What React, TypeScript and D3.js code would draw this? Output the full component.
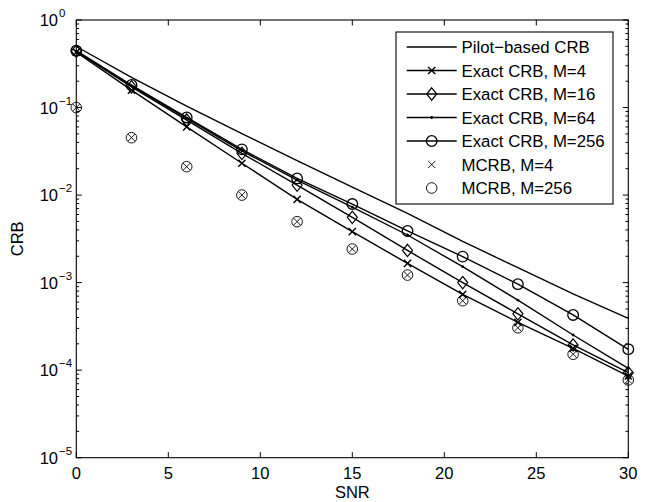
import React from "react";
import * as d3 from "d3";

const snr = [0, 3, 6, 9, 12, 15, 18, 21, 24, 27, 30];
const pilotCRB = [0.498, 0.221, 0.104, 0.0505, 0.0247, 0.0123, 0.0062, 0.00296, 0.00148, 0.000743, 0.000391];
const exactM4 = [0.43, 0.158, 0.0601, 0.0231, 0.00895, 0.00382, 0.00166, 0.000735, 0.000352, 0.000177, 0.0000857];
const exactM16 = [0.44, 0.172, 0.072, 0.03, 0.013, 0.00557, 0.00233, 0.001, 0.00044, 0.000194, 0.0000935];
const exactM64 = [0.44, 0.177, 0.075, 0.032, 0.0148, 0.0073, 0.0035, 0.00152, 0.00063, 0.000252, 0.000105];
const exactM256 = [0.446, 0.181, 0.0771, 0.0333, 0.0155, 0.0079, 0.00389, 0.00198, 0.00096, 0.000427, 0.000173];
const mcrbM4 = [0.1, 0.0453, 0.0211, 0.01, 0.00497, 0.00242, 0.00122, 0.000621, 0.000305, 0.000152, 0.0000772];
const mcrbM256 = [0.1, 0.0453, 0.0211, 0.01, 0.00497, 0.00242, 0.00122, 0.000621, 0.000305, 0.000152, 0.0000772];

const xTicks = [0, 5, 10, 15, 20, 25, 30];
const yExponents = [0, -1, -2, -3, -4, -5];
const legendLabels = [
  "Pilot\u2212based CRB",
  "Exact CRB, M=4",
  "Exact CRB, M=16",
  "Exact CRB, M=64",
  "Exact CRB, M=256",
  "MCRB, M=4",
  "MCRB, M=256",
];

const W = 647;
const H = 502;
const L = 76.3, R = 628.3, T = 20, B = 457.7;
const FONT = "'Liberation Sans', Arial, Helvetica, sans-serif";

type MarkerKind = "none" | "x" | "diamond" | "dot" | "circle";

function Marker({ kind, x, y, sw }: { kind: MarkerKind; x: number; y: number; sw: number }) {
  if (kind === "x") {
    const s = 3.6;
    return (
      <path d={`M${x - s},${y - s}L${x + s},${y + s}M${x - s},${y + s}L${x + s},${y - s}`} stroke="#000" strokeWidth={sw} fill="none" />
    );
  }
  if (kind === "diamond") {
    const w = 5, h = 6.2;
    return <path d={`M${x},${y - h}L${x + w},${y}L${x},${y + h}L${x - w},${y}Z`} stroke="#000" strokeWidth={sw} fill="none" />;
  }
  if (kind === "dot") {
    return <circle cx={x} cy={y} r={1.4} fill="#000" />;
  }
  if (kind === "circle") {
    return <circle cx={x} cy={y} r={5.3} stroke="#000" strokeWidth={sw} fill="none" />;
  }
  return null;
}

export default function App() {
  const x = d3.scaleLinear().domain([0, 30]).range([L, R]);
  const y = d3.scaleLog().domain([1e-5, 1]).range([B, T]);

  const line = d3
    .line<number>()
    .x((_, i) => x(snr[i]))
    .y((v) => y(v));

  const series: { data: number[]; marker: MarkerKind; line: boolean; sw: number; msw: number }[] = [
    { data: pilotCRB, marker: "none", line: true, sw: 1.4, msw: 1.4 },
    { data: exactM4, marker: "x", line: true, sw: 1.4, msw: 1.4 },
    { data: exactM16, marker: "diamond", line: true, sw: 1.4, msw: 1.2 },
    { data: exactM64, marker: "dot", line: true, sw: 1.4, msw: 1.2 },
    { data: exactM256, marker: "circle", line: true, sw: 1.4, msw: 1.3 },
    { data: mcrbM4, marker: "x", line: false, sw: 0.9, msw: 0.9 },
    { data: mcrbM256, marker: "circle", line: false, sw: 0.9, msw: 0.9 },
  ];

  const minor: number[] = [];
  for (let e = -5; e < 0; e++) {
    for (let k = 2; k <= 9; k++) minor.push(k * Math.pow(10, e));
  }

  const legX = 396, legY = 32, legW = 217, legH = 172;
  const rowY0 = 47, rowDy = 23.5;

  return (
    <svg width={W} height={H} style={{ position: "absolute", left: 0, top: 0, background: "#fff" }} fontFamily={FONT}>
      <rect x={0} y={0} width={W} height={H} fill="#fff" />
      <rect x={L} y={T} width={R - L} height={B - T} fill="none" stroke="#000" strokeWidth={1.1} />
      {xTicks.map((t) => (
        <g key={"xt" + t}>
          <line x1={x(t)} x2={x(t)} y1={B} y2={B - 5.5} stroke="#000" strokeWidth={1} />
          <line x1={x(t)} x2={x(t)} y1={T} y2={T + 5.5} stroke="#000" strokeWidth={1} />
          <text x={x(t)} y={479} textAnchor="middle" fontSize={16.5}>
            {t}
          </text>
        </g>
      ))}
      {yExponents.map((e) => {
        const yy = y(Math.pow(10, e));
        return (
          <g key={"yt" + e}>
            <line x1={L} x2={L + 5.5} y1={yy} y2={yy} stroke="#000" strokeWidth={1} />
            <line x1={R} x2={R - 5.5} y1={yy} y2={yy} stroke="#000" strokeWidth={1} />
            <text x={58} y={yy + 6} textAnchor="end" fontSize={16.5}>
              10
            </text>
            <text x={59} y={yy - 3} textAnchor="start" fontSize={11.5}>
              {e === 0 ? "0" : "\u2212" + Math.abs(e)}
            </text>
          </g>
        );
      })}
      {minor.map((v, i) => (
        <g key={"mt" + i}>
          <line x1={L} x2={L + 2.8} y1={y(v)} y2={y(v)} stroke="#000" strokeWidth={1} />
          <line x1={R} x2={R - 2.8} y1={y(v)} y2={y(v)} stroke="#000" strokeWidth={1} />
        </g>
      ))}
      <text x={(L + R) / 2} y={498} textAnchor="middle" fontSize={16.5}>
        SNR
      </text>
      <text transform={`translate(23,${(T + B) / 2}) rotate(-90)`} textAnchor="middle" fontSize={16.5}>
        CRB
      </text>
      {series.map((s, si) => (
        <g key={"s" + si}>
          {s.line && <path d={line(s.data) || ""} fill="none" stroke="#000" strokeWidth={s.sw} />}
          {s.data.map((v, i) => (
            <Marker key={i} kind={s.marker} x={x(snr[i])} y={y(v)} sw={s.msw} />
          ))}
        </g>
      ))}
      <rect x={legX} y={legY} width={legW} height={legH} fill="#fff" stroke="#000" strokeWidth={1.1} />
      {series.map((s, i) => {
        const ry = rowY0 + i * rowDy;
        return (
          <g key={"lg" + i}>
            {s.line && <line x1={406.7} x2={456.7} y1={ry} y2={ry} stroke="#000" strokeWidth={s.sw} />}
            <Marker kind={s.marker} x={431.7} y={ry} sw={s.msw} />
            <text x={461.5} y={ry + 6} fontSize={16.8}>
              {legendLabels[i]}
            </text>
          </g>
        );
      })}
    </svg>
  );
}
